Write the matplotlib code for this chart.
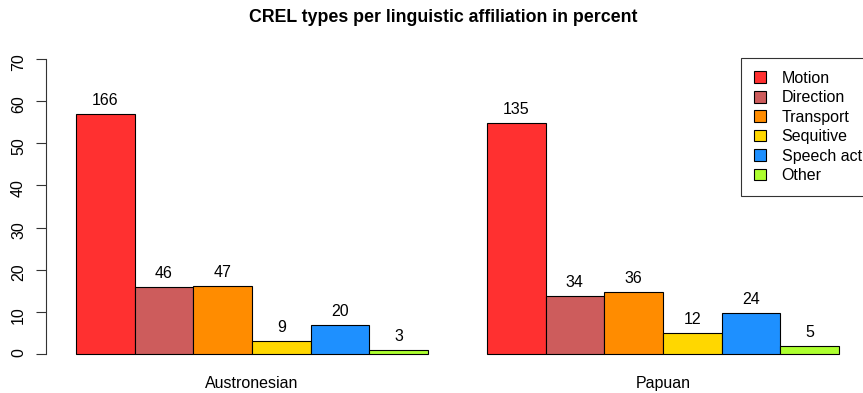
import matplotlib
matplotlib.use('Agg')
import matplotlib.pyplot as plt
import numpy as np

plt.rcParams['font.family'] = ['Liberation Sans', 'DejaVu Sans']

groups = ['Austronesian', 'Papuan']
types = ['Motion', 'Direction', 'Transport', 'Sequitive', 'Speech act', 'Other']
colors = ['#FF3030', '#CD5C5C', '#FF8C00', '#FFD700', '#1E90FF', '#ADFF2F']

# counts shown above the bars
austronesian_counts = [166, 46, 47, 9, 20, 3]
papuan_counts = [135, 34, 36, 12, 24, 5]
# bar heights (percent)
austronesian_pct = [57.0, 15.8, 16.2, 3.1, 6.9, 1.0]
papuan_pct = [54.9, 13.8, 14.6, 4.9, 9.8, 2.0]

W, H = 863, 393
fig = plt.figure(figsize=(W / 100, H / 100), dpi=100)
# plot region in pixels: x 45.5..869.5, y 47.2..365.8
ax = fig.add_axes([45.5 / W, (H - 365.8) / H, (869.5 - 45.5) / W, (365.8 - 47.2) / H])

ngroup = len(types)
handles = []
for g, (pct, cnt) in enumerate([(austronesian_pct, austronesian_counts),
                                (papuan_pct, papuan_counts)]):
    start = 1 + g * (ngroup + 1)
    xs = start + np.arange(ngroup) + 0.5
    bars = ax.bar(xs, pct, width=1.0, color=colors, edgecolor='black', linewidth=0.8)
    if g == 0:
        handles = list(bars)
    for x, p, c in zip(xs, pct, cnt):
        ax.text(x, p + 3.2, str(c), ha='center', va='center', fontsize=11.5)
    ax.text(start + ngroup / 2, -7.0, groups[g], ha='center', va='center', fontsize=11.5)

ax.set_xlim(0.48, 14.52)
ax.set_ylim(-2.8, 72.8)
ax.set_xticks([])
ax.set_yticks(range(0, 71, 10))
ax.tick_params(axis='y', length=7, width=0.8, pad=7, color='#333333',
               labelrotation=90, labelsize=11.5)
for lbl in ax.get_yticklabels():
    lbl.set_va('center')
for s in ['top', 'right', 'bottom']:
    ax.spines[s].set_visible(False)
ax.spines['left'].set_bounds(0, 70)
ax.spines['left'].set_position(('data', 0.48))
ax.spines['left'].set_color('#333333')

fig.text(443 / W, 1 - 18 / H, 'CREL types per linguistic affiliation in percent',
         ha='center', va='center', fontsize=12.8, fontweight='bold')

leg = ax.legend(handles, types, loc='upper left', bbox_to_anchor=(741 / W, 1 - 58 / H),
                bbox_transform=fig.transFigure, fontsize=11.5, frameon=True, fancybox=False,
                edgecolor='black', handlelength=0.75, handleheight=0.75, handletextpad=1.0,
                labelspacing=0.28, borderpad=0.8, borderaxespad=0)
leg.get_frame().set_linewidth(0.8)

fig.savefig('out.png', dpi=100)
